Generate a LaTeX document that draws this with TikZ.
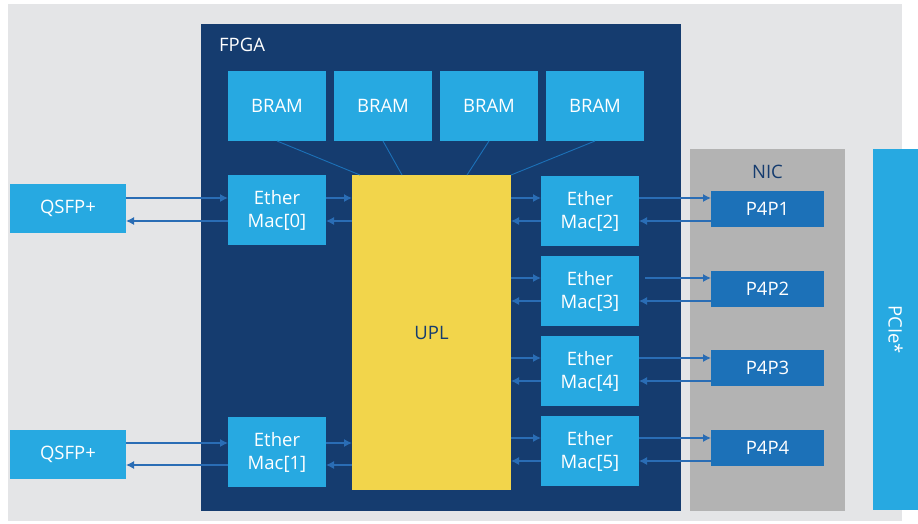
\documentclass[tikz,border=0pt]{standalone}
\usepackage{fontspec}
\setmainfont{Open Sans}
\usepackage{tikz}
\usetikzlibrary{arrows.meta,positioning}

\definecolor{bggray}{HTML}{E4E5E7}
\definecolor{fpgablue}{HTML}{153C6F}
\definecolor{boxblue}{HTML}{27A9E1}
\definecolor{portblue}{HTML}{1C71B8}
\definecolor{uplyellow}{HTML}{F2D54B}
\definecolor{nicgray}{HTML}{B3B3B3}
\definecolor{linkblue}{HTML}{2A6DB5}
\definecolor{navytext}{HTML}{153C6F}

\begin{document}
\begin{tikzpicture}[
    x=1pt, y=-1pt,
    font=\fontsize{18.5}{23}\selectfont,
    area/.style={rectangle, inner sep=0pt, outer sep=0pt},
    block/.style={area, fill=boxblue, text=white, align=center, minimum width=98pt, minimum height=70pt},
    port/.style={area, fill=portblue, text=white, minimum width=113pt, minimum height=36pt},
    qsfp/.style={area, fill=boxblue, text=white, minimum width=116pt, minimum height=49pt},
    link/.style={-{Latex[length=8pt,width=8pt]}, draw=linkblue, line width=1.2pt},
    wire/.style={draw=portblue, line width=0.9pt}
]
\useasboundingbox (0,0) rectangle (918,523);

% Containers
\node[area, fill=bggray, minimum width=894pt, minimum height=517pt] (board) at (455,262.5) {};
\node[area, fill=fpgablue, minimum width=480pt, minimum height=487pt] (fpga) at (441,267.5) {};
\node[text=white, anchor=base west, inner sep=0pt] (fpgalabel) at (219,51) {FPGA};
\node[area, fill=nicgray, minimum width=155pt, minimum height=362pt] (nic) at (767.5,330) {};
\node[text=navytext, anchor=base, inner sep=0pt] (niclabel) at (767.5,178) {NIC};
\node[area, fill=boxblue, text=white, minimum width=361pt, minimum height=45pt, rotate=-90] (pcie) at (895.5,329.5) {PCIe*};

% Nodes
\node[block] (bram1) at (277,106) {BRAM};
\node[block, right=8pt of bram1] (bram2) {BRAM};
\node[block, right=8pt of bram2] (bram3) {BRAM};
\node[block, right=8pt of bram3] (bram4) {BRAM};

\node[area, fill=uplyellow, text=navytext, minimum width=159pt, minimum height=315pt] (upl) at (431.5,332.5) {UPL};

\node[block] (mac0) at (277,210) {Ether\\Mac[0]};
\node[block] (mac1) at (277,452) {Ether\\Mac[1]};
\node[block] (mac2) at (590,211) {Ether\\Mac[2]};
\node[block, below=10pt of mac2] (mac3) {Ether\\Mac[3]};
\node[block, below=10pt of mac3] (mac4) {Ether\\Mac[4]};
\node[block, below=10pt of mac4] (mac5) {Ether\\Mac[5]};

\node[qsfp] (qsfp0) at (68,208.5) {QSFP+};
\node[qsfp] (qsfp1) at (68,454.5) {QSFP+};

\node[port] (p4p1) at (767.5,209) {P4P1};
\node[port] (p4p2) at (767.5,289) {P4P2};
\node[port] (p4p3) at (767.5,368) {P4P3};
\node[port] (p4p4) at (767.5,448) {P4P4};

% BRAM wires
\draw[wire] (bram1.south) -- ([xshift=-71.5pt]upl.north);
\draw[wire] (bram2.south) -- ([xshift=-29.5pt]upl.north);
\draw[wire] (bram3.south) -- ([xshift=35.5pt]upl.north);
\draw[wire] (bram4.south) -- (upl.north east);

% Arrows left
\draw[link] ([yshift=10.5pt]qsfp0.east) -- ([yshift=12pt]mac0.west);
\draw[link] ([yshift=-11pt]mac0.west) -- ([yshift=-12.5pt]qsfp0.east);
\draw[link] ([yshift=12pt]mac0.east) -- ([yshift=12pt]mac0.east -| upl.west);
\draw[link] ([yshift=-11pt]mac0.east -| upl.west) -- ([yshift=-11pt]mac0.east);

\draw[link] ([yshift=11.5pt]qsfp1.east) -- ([yshift=9pt]mac1.west);
\draw[link] ([yshift=-13pt]mac1.west) -- ([yshift=-10.5pt]qsfp1.east);
\draw[link] ([yshift=9pt]mac1.east) -- ([yshift=9pt]mac1.east -| upl.west);
\draw[link] ([yshift=-13pt]mac1.east -| upl.west) -- ([yshift=-13pt]mac1.east);

% Arrows right
\draw[link] ([yshift=13pt]mac2.west -| upl.east) -- ([yshift=13pt]mac2.west);
\draw[link] ([yshift=-10pt]mac2.west) -- ([yshift=-10pt]mac2.west -| upl.east);
\draw[link] ([yshift=13pt]mac2.east) -- ([yshift=13pt]mac2.east -| p4p1.west);
\draw[link] ([yshift=-10pt]mac2.east -| p4p1.west) -- ([yshift=-10pt]mac2.east);

\draw[link] ([yshift=13pt]mac3.west -| upl.east) -- ([yshift=13pt]mac3.west);
\draw[link] ([yshift=-10pt]mac3.west) -- ([yshift=-10pt]mac3.west -| upl.east);
\draw[link] ([xshift=6pt,yshift=13pt]mac3.east) -- ([yshift=13pt]mac3.east -| p4p2.west);
\draw[link] ([yshift=-10pt]mac3.east -| p4p2.west) -- ([yshift=-10pt]mac3.east);

\draw[link] ([yshift=13pt]mac4.west -| upl.east) -- ([yshift=13pt]mac4.west);
\draw[link] ([yshift=-10pt]mac4.west) -- ([yshift=-10pt]mac4.west -| upl.east);
\draw[link] ([yshift=13pt]mac4.east) -- ([yshift=13pt]mac4.east -| p4p3.west);
\draw[link] ([yshift=-10pt]mac4.east -| p4p3.west) -- ([yshift=-10pt]mac4.east);

\draw[link] ([yshift=13pt]mac5.west -| upl.east) -- ([yshift=13pt]mac5.west);
\draw[link] ([yshift=-10pt]mac5.west) -- ([yshift=-10pt]mac5.west -| upl.east);
\draw[link] ([yshift=13pt]mac5.east) -- ([yshift=13pt]mac5.east -| p4p4.west);
\draw[link] ([yshift=-10pt]mac5.east -| p4p4.west) -- ([yshift=-10pt]mac5.east);

\end{tikzpicture}
\end{document}
